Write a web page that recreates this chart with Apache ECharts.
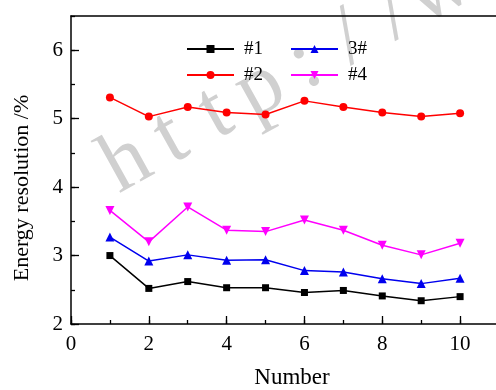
<!DOCTYPE html>
<html>
<head>
<meta charset="utf-8">
<script src="https://cdn.jsdelivr.net/npm/echarts@6/dist/echarts.min.js"></script>
<style>
html,body{margin:0;padding:0;background:#fff;}
#chart{width:496px;height:390px;}
</style>
</head>
<body>
<div id="chart"></div>
<script>
const numbers = [1, 2, 3, 4, 5, 6, 7, 8, 9, 10];
const s1 = [3.00, 2.52, 2.62, 2.53, 2.53, 2.46, 2.49, 2.41, 2.34, 2.40];
const s2 = [5.31, 5.03, 5.17, 5.09, 5.06, 5.26, 5.17, 5.09, 5.03, 5.08];
const s3 = [3.27, 2.92, 3.01, 2.93, 2.94, 2.78, 2.76, 2.66, 2.59, 2.67];
const s4 = [3.66, 3.20, 3.71, 3.37, 3.35, 3.52, 3.37, 3.15, 3.01, 3.18];
const seriesNames = ['#1', '#2', '3#', '#4'];
const legendOrder = ['#1', '3#', '#2', '#4'];
const xTicks = [0, 2, 4, 6, 8, 10];
const yTicks = [2, 3, 4, 5, 6];
const watermark = 'http://www';

const FONT = '"Liberation Serif", "Times New Roman", serif';
const pair = arr => numbers.map((n, i) => [n, arr[i]]);

// watermark characters laid along a tilted baseline
const wmAngle = 29 * Math.PI / 180;
const wmPitch = 51, wmSize = 86;
const wmOrigin = [139, 186]; // baseline centre of first character
const wmGraphic = watermark.split('').map((ch, i) => {
  const bx = wmOrigin[0] + i * wmPitch * Math.cos(wmAngle);
  const by = wmOrigin[1] - i * wmPitch * Math.sin(wmAngle);
  const off = 0.3 * wmSize;
  return {
    type: 'text', silent: true, z: 0,
    x: bx - off * Math.sin(wmAngle), y: by - off * Math.cos(wmAngle),
    rotation: wmAngle,
    style: {text: ch, font: wmSize + 'px "Liberation Serif"', fill: '#d0d0d0',
      textAlign: 'center', textVerticalAlign: 'middle'}
  };
});

const chart = echarts.init(document.getElementById('chart'));
const common = {type: 'line', xAxisIndex: 0, yAxisIndex: 0, lineStyle: {width: 1.5}, z: 5};
chart.setOption({
  animation: false,
  backgroundColor: '#fff',
  grid: {left: 71, top: 16, right: -3, bottom: 66, containLabel: false, outerBoundsMode: 'none'},
  legend: {
    data: legendOrder, left: 186, top: 39, width: 230, orient: 'horizontal', padding: 0,
    itemWidth: 47, itemHeight: 10, itemGap: 6,
    textStyle: {fontFamily: FONT, fontSize: 19, color: '#000', width: 40, lineHeight: 20, padding: [0, 0, 0, 5]}
  },
  xAxis: [
    {type: 'value', min: 0, max: 11, interval: 2, position: 'bottom',
     axisLine: {show: true, onZero: false, lineStyle: {color: '#000', width: 1.5}},
     axisTick: {inside: true, length: 8, lineStyle: {color: '#000', width: 1.3}},
     axisLabel: {fontFamily: FONT, fontSize: 21, color: '#000', margin: 10, showMaxLabel: false,
       formatter: v => xTicks.includes(v) ? String(v) : ''},
     splitLine: {show: false},
     name: 'Number', nameLocation: 'middle', nameGap: 42,
     nameTextStyle: {fontFamily: FONT, fontSize: 23, color: '#000', padding: [0, 0, 0, 14]}},
    {type: 'value', min: 0, max: 11, interval: 1, position: 'bottom',
     axisLine: {show: false}, axisLabel: {show: false}, splitLine: {show: false},
     axisTick: {inside: true, length: 4, lineStyle: {color: '#000', width: 1.3}}},
    {type: 'value', min: 0, max: 11, position: 'top',
     axisLine: {show: true, onZero: false, lineStyle: {color: '#000', width: 1.5}},
     axisTick: {show: false}, axisLabel: {show: false}, splitLine: {show: false}}
  ],
  yAxis: [
    {type: 'value', min: 2, max: 6.5, interval: 1, position: 'left',
     axisLine: {show: true, onZero: false, lineStyle: {color: '#000', width: 1.5}},
     axisTick: {inside: true, length: 8, lineStyle: {color: '#000', width: 1.3}},
     axisLabel: {fontFamily: FONT, fontSize: 21, color: '#000', margin: 8, showMaxLabel: false,
       formatter: v => yTicks.includes(v) ? String(v) : ''},
     splitLine: {show: false},
     name: 'Energy resolution /%', nameLocation: 'middle', nameGap: 38,
     nameTextStyle: {fontFamily: FONT, fontSize: 22, color: '#000', padding: [0, 36, 0, 0]}},
    {type: 'value', min: 2, max: 6.5, interval: 0.5, position: 'left',
     axisLine: {show: false}, axisLabel: {show: false}, splitLine: {show: false},
     axisTick: {inside: true, length: 4, lineStyle: {color: '#000', width: 1.3}}}
  ],
  graphic: wmGraphic,
  series: [
    Object.assign({}, common, {name: seriesNames[0], data: pair(s1), color: '#000000', symbol: 'rect', symbolSize: 7}),
    Object.assign({}, common, {name: seriesNames[1], data: pair(s2), color: '#ff0000', symbol: 'circle', symbolSize: 8}),
    Object.assign({}, common, {name: seriesNames[2], data: pair(s3), color: '#0000ee', symbol: 'triangle', symbolSize: 9}),
    Object.assign({}, common, {name: seriesNames[3], data: pair(s4), color: '#ff00ff', symbol: 'triangle', symbolRotate: 180, symbolSize: 9})
  ]
});
</script>
</body>
</html>
